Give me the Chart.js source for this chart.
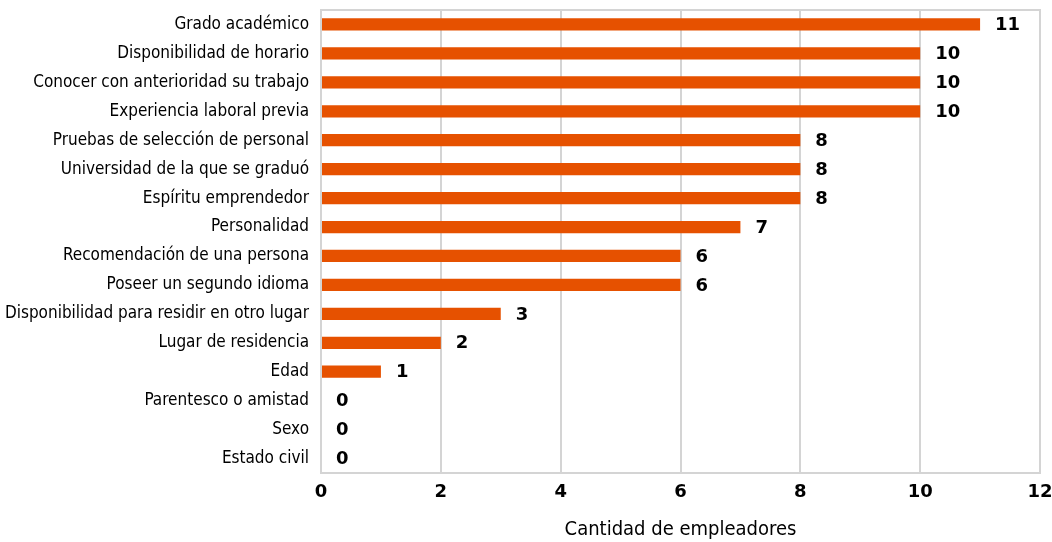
<!DOCTYPE html>
<html>
<head>
<meta charset="utf-8">
<script src="https://cdn.jsdelivr.net/npm/chart.js@4"></script>
<style>
  html, body { margin: 0; padding: 0; background: #fff; }
  #wrap { width: 1052px; height: 542px; }
</style>
</head>
<body>
<div id="wrap"><canvas id="bars"></canvas></div>
<script>
const categories = [
  "Grado académico",
  "Disponibilidad de horario",
  "Conocer con anterioridad su trabajo",
  "Experiencia laboral previa",
  "Pruebas de selección de personal",
  "Universidad de la que se graduó",
  "Espíritu emprendedor",
  "Personalidad",
  "Recomendación de una persona",
  "Poseer un segundo idioma",
  "Disponibilidad para residir en otro lugar",
  "Lugar de residencia",
  "Edad",
  "Parentesco o amistad",
  "Sexo",
  "Estado civil"
];
const employers = [11, 10, 10, 10, 8, 8, 8, 7, 6, 6, 3, 2, 1, 0, 0, 0];
const xTicks = [0, 2, 4, 6, 8, 10, 12];
const axisTitle = "Cantidad de empleadores";

const narrow = "'Liberation Sans Narrow', 'DejaVu Sans Condensed', sans-serif";
const boldFont = "'DejaVu Sans', sans-serif";

// value labels at the end of each bar
const valueLabels = {
  id: "valueLabels",
  afterDatasetsDraw(chart) {
    const ctx = chart.ctx;
    const meta = chart.getDatasetMeta(0);
    ctx.save();
    ctx.font = "bold 18px " + boldFont;
    ctx.fillStyle = "#000";
    ctx.textAlign = "left";
    ctx.textBaseline = "middle";
    meta.data.forEach((bar, i) => {
      ctx.fillText(String(employers[i]), bar.x + 15, bar.y + 1);
    });
    ctx.restore();
  }
};

// light frame round the plot area
const frame = {
  id: "frame",
  beforeDatasetsDraw(chart) {
    const a = chart.chartArea;
    const ctx = chart.ctx;
    ctx.save();
    ctx.strokeStyle = "#d4d4d4";
    ctx.lineWidth = 2;
    ctx.strokeRect(a.left, a.top, a.right - a.left, a.bottom - a.top);
    ctx.restore();
  }
};

new Chart(document.getElementById("bars"), {
  type: "bar",
  data: {
    labels: categories,
    datasets: [{
      data: employers,
      backgroundColor: "#e65100",
      barPercentage: 0.9,
      categoryPercentage: 0.47
    }]
  },
  options: {
    indexAxis: "y",
    responsive: true,
    maintainAspectRatio: false,
    animation: false,
    layout: { padding: { top: 10, right: 12, left: 0, bottom: 0 } },
    plugins: {
      legend: { display: false },
      tooltip: { enabled: false }
    },
    scales: {
      x: {
        min: 0,
        max: 12,
        afterBuildTicks(scale) {
          scale.ticks = xTicks.map(v => ({ value: v }));
        },
        afterFit(scale) {
          scale.height = 69;
          scale.paddingLeft = 0;
          scale.paddingRight = 0;
        },
        grid: { color: "#d4d4d4", lineWidth: 2, drawTicks: false },
        border: { display: true, color: "#d4d4d4", width: 2 },
        ticks: {
          color: "#000",
          padding: 9,
          font: { family: boldFont, size: 18, weight: "bold" }
        },
        title: {
          display: true,
          text: axisTitle,
          color: "#000",
          padding: { top: 17, bottom: 0 },
          font: { family: narrow, size: 20 }
        }
      },
      y: {
        afterFit(scale) {
          scale.width = 321;
          scale.paddingTop = 0;
          scale.paddingBottom = 0;
        },
        grid: { display: false, drawTicks: false },
        border: { display: true, color: "#d4d4d4", width: 2 },
        ticks: {
          color: "#000",
          padding: 12,
          autoSkip: false,
          font: { family: narrow, size: 17 }
        }
      }
    }
  },
  plugins: [frame, valueLabels]
});
</script>
</body>
</html>
